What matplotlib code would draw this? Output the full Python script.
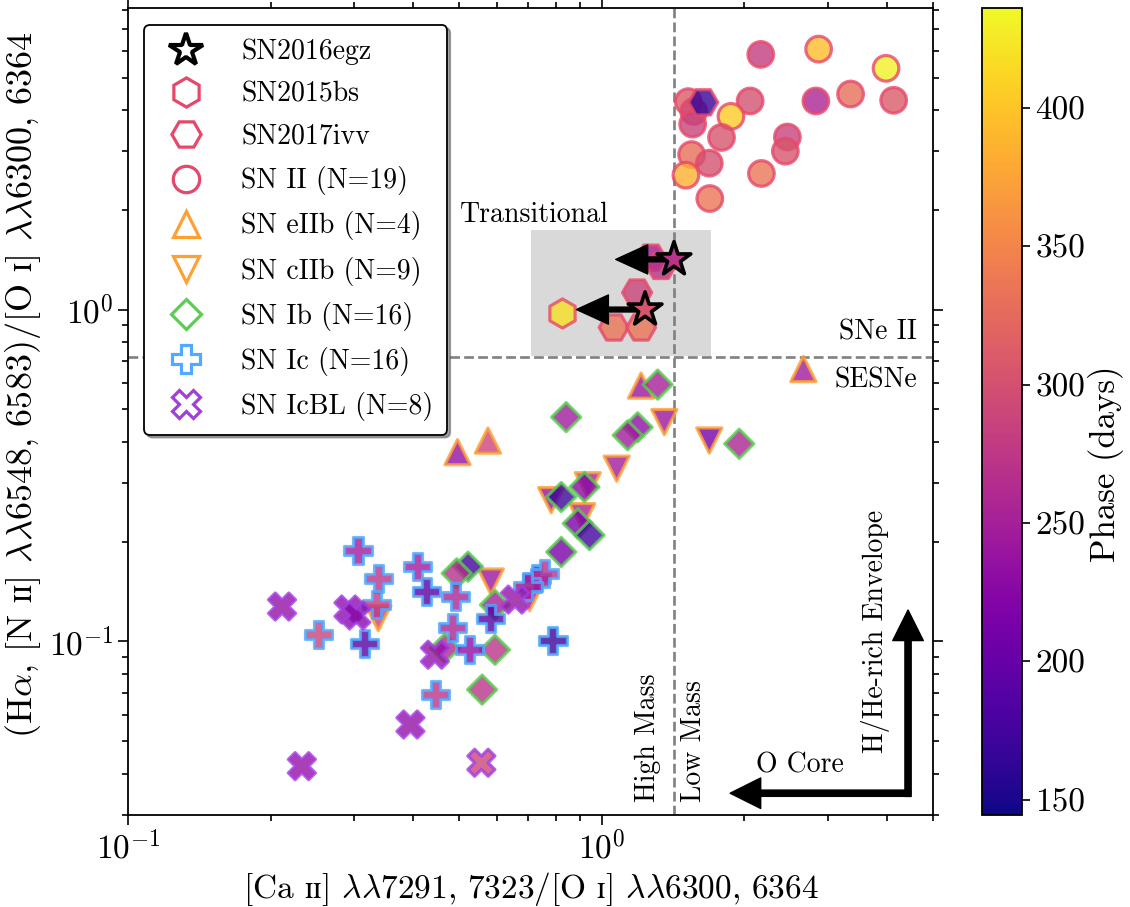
import numpy as np
import matplotlib
matplotlib.use('Agg')
import matplotlib.pyplot as plt
from matplotlib.lines import Line2D
from matplotlib.patches import Rectangle
from matplotlib.colors import Normalize
from matplotlib.ticker import FixedLocator, FixedFormatter, LogLocator, NullFormatter
import matplotlib.transforms as mtransforms

plt.rcParams['font.family'] = ['cmr10', 'DejaVu Serif']
plt.rcParams['mathtext.fontset'] = 'cm'
plt.rcParams['axes.unicode_minus'] = False
plt.rcParams['font.size'] = 20

# ---- data: [Ca II]/[O I] ratio, (Ha+[N II])/[O I] ratio, phase (days)
ii_x = [2.165, 2.868, 3.98, 1.522, 1.563, 1.555, 2.056, 2.83, 3.35, 4.13,
        1.873, 1.789, 2.464, 2.44, 1.547, 1.686, 1.505, 2.172, 1.690]
ii_y = [5.87, 6.09, 5.33, 4.23, 3.95, 3.62, 4.25, 4.25, 4.46, 4.27,
        3.82, 3.30, 3.31, 3.00, 2.93, 2.76, 2.54, 2.57, 2.16]
ii_ph = [280, 395, 430, 310, 295, 285, 300, 255, 330, 310,
         405, 305, 285, 305, 330, 300, 385, 335, 335]

eiib_x = [0.496, 0.575, 1.21, 2.663]
eiib_y = [0.372, 0.403, 0.590, 0.662]
eiib_ph = [235, 290, 240, 245]

ciib_x = [1.355, 1.686, 1.075, 0.782, 0.934, 0.909, 0.583, 0.3375, 0.704]
ciib_y = [0.458, 0.403, 0.3315, 0.2664, 0.2955, 0.2384, 0.1515, 0.1175, 0.135]
ciib_ph = [240, 210, 245, 235, 255, 255, 240, 285, 245]

ib_x = [1.312, 0.841, 1.19, 1.134, 1.95, 0.821, 0.919, 0.890, 0.942, 0.821,
        0.522, 0.494, 0.595, 0.4666, 0.595, 0.559]
ib_y = [0.594, 0.474, 0.442, 0.418, 0.394, 0.2724, 0.292, 0.2266, 0.209, 0.186,
        0.168, 0.1604, 0.1289, 0.0954, 0.0944, 0.0716]
ib_ph = [250, 245, 230, 245, 255, 170, 225, 215, 175, 215,
         175, 265, 250, 260, 270, 270]

ic_x = [0.3058, 0.3375, 0.4084, 0.4267, 0.3349, 0.491, 0.2527, 0.3152, 0.483, 0.583,
        0.5266, 0.4458, 0.7887, 0.7276, 0.758, 0.6985]
ic_y = [0.1885, 0.155, 0.168, 0.1413, 0.129, 0.1365, 0.1047, 0.0984, 0.1104, 0.1175,
        0.0948, 0.0692, 0.1007, 0.155, 0.1604, 0.1463]
ic_ph = [245, 270, 245, 190, 275, 255, 285, 190, 255, 190,
         230, 270, 170, 215, 265, 250]

icbl_x = [0.2114, 0.2919, 0.3034, 0.4443, 0.3945, 0.2328, 0.557, 0.656]
icbl_y = [0.1274, 0.1248, 0.1197, 0.0912, 0.0562, 0.0421, 0.0431, 0.1337]
icbl_ph = [235, 230, 225, 235, 235, 235, 290, 235]

ivv_x = [1.06, 1.21, 1.187, 1.27, 1.333, 1.637]
ivv_y = [0.883, 0.883, 1.125, 1.433, 1.353, 4.21]
ivv_ph = [335, 335, 290, 250, 270, 165]

bs_x = [0.824]
bs_y = [0.979]
bs_ph = [420]

egz_x = [1.42, 1.234]
egz_y = [1.416, 1.0]
egz_ph = [270, 305]
egz_dx = 0.35  # upper limit arrow length

x_split = 1.42
y_split = 0.717
trans_box = (0.71, 1.70, 0.725, 1.735)

labels = ['SN2016egz', 'SN2015bs', 'SN2017ivv', 'SN II (N=19)', 'SN eIIb (N=4)',
          'SN cIIb (N=9)', 'SN Ib (N=16)', 'SN Ic (N=16)', 'SN IcBL (N=8)']

c_red = '#e6486a'
c_orange = '#ffa033'
c_green = '#58cf4f'
c_blue = '#50aaff'
c_purple = '#a43ce0'

fig = plt.figure(figsize=(11.3, 9.07), dpi=100)
ax = fig.add_axes([128/1130, 1-815/907, 805/1130, 807/907])
cax = fig.add_axes([982/1130, 1-815/907, 40/1130, 807/907])

norm = Normalize(vmin=144.5, vmax=436)
cmap = 'plasma'
alpha = 0.8

ax.add_patch(Rectangle((trans_box[0], trans_box[2]), trans_box[1]-trans_box[0],
                       trans_box[3]-trans_box[2], facecolor='#d9d9d9', edgecolor='none', zorder=0))
ax.axvline(x_split, color='gray', ls='--', lw=1.9, zorder=1)
ax.axhline(y_split, color='gray', ls='--', lw=1.9, zorder=1)

kw = dict(cmap=cmap, norm=norm, alpha=alpha, zorder=3)
ax.scatter(ii_x, ii_y, c=ii_ph, marker='o', s=340, edgecolors=c_red, linewidths=2.3, **kw)
ax.scatter(eiib_x, eiib_y, c=eiib_ph, marker='^', s=330, edgecolors=c_orange, linewidths=2.3, **kw)
ax.scatter(ciib_x, ciib_y, c=ciib_ph, marker='v', s=330, edgecolors=c_orange, linewidths=2.3, **kw)
ax.scatter(ib_x, ib_y, c=ib_ph, marker='D', s=220, edgecolors=c_green, linewidths=2.3, **kw)
ax.scatter(ic_x, ic_y, c=ic_ph, marker='P', s=380, edgecolors=c_blue, linewidths=2.3, **kw)
ax.scatter(icbl_x, icbl_y, c=icbl_ph, marker='X', s=380, edgecolors=c_purple, linewidths=2.3, **kw)
ax.scatter(ivv_x, ivv_y, c=ivv_ph, marker='H', s=440, edgecolors=c_red, linewidths=2.3, **kw)
ax.scatter(bs_x, bs_y, c=bs_ph, marker='h', s=440, edgecolors=c_red, linewidths=2.3, **kw)

for xs, ys in zip(egz_x, egz_y):
    ax.annotate('', xy=(xs - egz_dx, ys), xytext=(xs, ys), zorder=5,
                arrowprops=dict(facecolor='black', edgecolor='black', width=3.5,
                                headwidth=21, headlength=23, shrink=0))
ax.scatter(egz_x, egz_y, c=egz_ph, marker='*', s=650, edgecolors='black', linewidths=2.6,
           cmap=cmap, norm=norm, zorder=6)

ax.set_xscale('log')
ax.set_yscale('log')
ax.set_xlim(0.1, 5)
ax.set_ylim(0.03, 8.1)
ax.xaxis.set_major_locator(FixedLocator([0.1, 1]))
ax.xaxis.set_major_formatter(FixedFormatter([r'$10^{-1}$', r'$10^{0}$']))
ax.yaxis.set_major_locator(FixedLocator([0.1, 1]))
ax.yaxis.set_major_formatter(FixedFormatter([r'$10^{-1}$', r'$10^{0}$']))
for a in (ax.xaxis, ax.yaxis):
    a.set_minor_locator(LogLocator(base=10, subs=np.arange(2, 10)))
    a.set_minor_formatter(NullFormatter())
ax.tick_params(which='both', direction='out', top=True, right=True, labelsize=24, width=1.2)
ax.tick_params(which='major', length=7)
ax.tick_params(which='minor', length=4)
for sp in ax.spines.values():
    sp.set_linewidth(1.3)

ax.set_xlabel(r'[Ca $\mathrm{ɪɪ}$] $\lambda\lambda7291,\,7323$/[O $\mathrm{ɪ}$] $\lambda\lambda6300,\,6364$',
              fontsize=24)
ax.set_ylabel(r'(H$\alpha$, [N $\mathrm{ɪɪ}$] $\lambda\lambda6548,\,6583$)/[O $\mathrm{ɪ}$] $\lambda\lambda6300,\,6364$',
              fontsize=26)
ax.yaxis.set_label_coords(-0.105, 0.533)

# annotations
ax.text(0.502, 1.93, 'Transitional', ha='left', va='center', fontsize=20)
tb = mtransforms.blended_transform_factory(ax.transAxes, ax.transData)
ax.text(0.98, 0.853, 'SNe II', ha='right', va='center', transform=tb, fontsize=20)
ax.text(0.98, 0.612, 'SESNe', ha='right', va='center', transform=tb, fontsize=20)
ax.annotate('High Mass', xy=(x_split, 0.016), xycoords=('data', 'axes fraction'),
            xytext=(-9, 0), textcoords='offset points', rotation=90,
            ha='right', va='bottom', fontsize=20)
ax.annotate('Low Mass', xy=(x_split, 0.016), xycoords=('data', 'axes fraction'),
            xytext=(5, 0), textcoords='offset points', rotation=90,
            ha='left', va='bottom', fontsize=20)

ax.annotate('', xy=(0.748, 0.027), xytext=(0.972, 0.027), xycoords='axes fraction',
            arrowprops=dict(facecolor='black', edgecolor='black', width=4.5,
                            headwidth=22, headlength=22, shrink=0))
ax.annotate('', xy=(0.969, 0.254), xytext=(0.969, 0.023), xycoords='axes fraction',
            arrowprops=dict(facecolor='black', edgecolor='black', width=4.5,
                            headwidth=22, headlength=22, shrink=0))
ax.text(0.835, 0.062, 'O Core', transform=ax.transAxes, ha='center', va='center', fontsize=20)
ax.text(0.928, 0.227, 'H/He-rich Envelope', transform=ax.transAxes, rotation=90,
        ha='center', va='center', fontsize=20)

# legend
handles = [
    Line2D([], [], ls='none', marker='*', ms=25, mfc='none', mec='black', mew=3),
    Line2D([], [], ls='none', marker='h', ms=21, mfc='none', mec=c_red, mew=2.3),
    Line2D([], [], ls='none', marker='H', ms=21, mfc='none', mec=c_red, mew=2.3),
    Line2D([], [], ls='none', marker='o', ms=19, mfc='none', mec=c_red, mew=2.3),
    Line2D([], [], ls='none', marker='^', ms=19, mfc='none', mec=c_orange, mew=2.3),
    Line2D([], [], ls='none', marker='v', ms=19, mfc='none', mec=c_orange, mew=2.3),
    Line2D([], [], ls='none', marker='D', ms=15, mfc='none', mec=c_green, mew=2.3),
    Line2D([], [], ls='none', marker='P', ms=20, mfc='none', mec=c_blue, mew=2.3),
    Line2D([], [], ls='none', marker='X', ms=20, mfc='none', mec=c_purple, mew=2.3),
]
leg = ax.legend(handles, labels, loc='upper left', bbox_to_anchor=(0.02, 0.979),
                borderaxespad=0, fontsize=20, shadow=True, fancybox=True,
                framealpha=1, edgecolor='black', labelspacing=0.58,
                handletextpad=1.0, borderpad=0.5)
leg.get_frame().set_linewidth(1.3)
leg.set_zorder(10)

sm = plt.cm.ScalarMappable(norm=norm, cmap=cmap)
cb = fig.colorbar(sm, cax=cax)
cb.set_ticks([150, 200, 250, 300, 350, 400])
cb.ax.tick_params(labelsize=24, length=6, width=1.2)
cb.set_label('Phase (days)', fontsize=25, labelpad=2)
cb.ax.yaxis.label.set_y(0.435)
cb.outline.set_linewidth(1.3)

fig.savefig('out.png', dpi=100)
